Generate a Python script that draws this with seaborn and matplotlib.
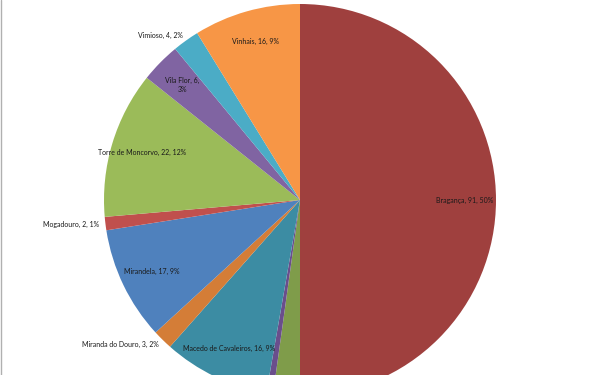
import matplotlib
matplotlib.use("Agg")
import numpy as np
import matplotlib.pyplot as plt
import seaborn as sns

# dados (concelhos do distrito de Bragança)
concelhos = ["Bragança", "Carrazeda de Ansiães", "Freixo de Espada à Cinta",
             "Macedo de Cavaleiros", "Miranda do Douro", "Mirandela", "Mogadouro",
             "Torre de Moncorvo", "Vila Flor", "Vimioso", "Vinhais"]
valores = [91, 4, 1, 16, 3, 17, 2, 22, 6, 4, 16]
cores = ["#9F403E", "#7F9C4A", "#6A4E8C", "#3C8CA3", "#D47D37", "#4F81BD",
         "#C0504D", "#9BBB59", "#8064A2", "#4BACC6", "#F79646"]

sns.set_theme(style="white")
plt.rcParams["font.family"] = ["Lato", "DejaVu Sans"]

fig = plt.figure(figsize=(6, 3.75), dpi=100)
ax = fig.add_axes([0, 0, 1, 1])

wedges, _ = ax.pie(valores, colors=cores, startangle=90, counterclock=False,
                   radius=1, wedgeprops=dict(linewidth=0))

# centro em (300, 200) px, raio 196 px
ylo, yhi = -175 / 196, 200 / 196
ax.set_xlim(-300 / 196, 300 / 196)
ax.set_ylim(ylo, yhi)

total = sum(valores)
for w, nome, v in zip(wedges, concelhos, valores):
    pct = round(v / total * 100)
    ang = np.deg2rad((w.theta1 + w.theta2) / 2)
    txt = f"{nome}, {v}, {pct}%"
    if v < 5:
        # fatias pequenas: rótulo fora, encostado à borda
        d = 1.03
        x, y = d * np.cos(ang), d * np.sin(ang)
        if y < ylo:
            continue  # fica fora da imagem (cortado no original)
        ha = "right" if x < 0 else "left"
    else:
        d = 0.84
        if v < 10:
            txt = f"{nome}, {v},\n{pct}%"
        x, y = d * np.cos(ang), d * np.sin(ang)
        ha = "center"
    ax.text(x, y, txt, ha=ha, va="center",
            fontsize=5, color="#1a1a1a", linespacing=1.3)

ax.set_aspect("auto")
ax.axis("off")

fig.add_artist(plt.Line2D([0.002, 0.002], [0, 1], transform=fig.transFigure,
                          color="#b0b0b0", linewidth=1))

plt.savefig("out.png", dpi=100)
